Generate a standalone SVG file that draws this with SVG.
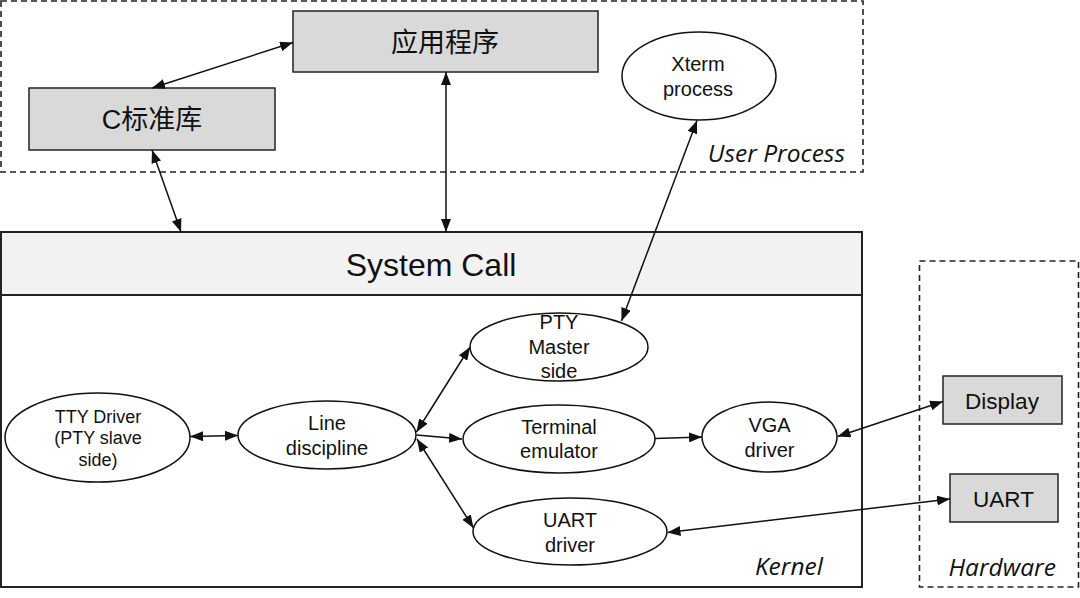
<svg xmlns="http://www.w3.org/2000/svg" width="1080" height="598" viewBox="0 0 1080 598">
<style>
.bg{fill:#ffffff}
.dash{fill:none;stroke:#222;stroke-width:1.6;stroke-dasharray:6,4}
.gbox{fill:#d9d9d9;stroke:#222;stroke-width:1.5}
.ell{fill:#ffffff;stroke:#111;stroke-width:1.5}
.t{font-family:"Liberation Sans",Arial,sans-serif;fill:#111;text-anchor:middle}
.cjk{font-family:"Liberation Sans","Noto Sans CJK SC",sans-serif;fill:#111;text-anchor:middle;font-size:27px}
.it{font-family:"Open Sans","Noto Sans",sans-serif;font-style:italic;fill:#111;font-size:24.5px;text-anchor:end}
.c{fill:none;stroke:#111;stroke-width:1.5}
</style>
<defs>
<marker id="ah" viewBox="0 0 13 10" refX="13" refY="5" markerWidth="13" markerHeight="10" markerUnits="userSpaceOnUse" orient="auto-start-reverse">
<path d="M0,0 L13,5 L0,10 z" fill="#111"/>
</marker>
</defs>
<rect class="bg" x="0" y="0" width="1080" height="598"/>

<g id="user-process">
<rect class="dash" x="1" y="1" width="862" height="171"/>
<text class="it" x="845" y="162">User Process</text>
</g>

<g id="app">
<rect class="gbox" x="293" y="11" width="305" height="61"/>
<text class="cjk" x="445" y="52">应用程序</text>
</g>

<g id="libc">
<rect class="gbox" x="29" y="88" width="246" height="62"/>
<text class="cjk" x="152" y="129">C标准库</text>
</g>

<g id="xterm">
<ellipse class="ell" cx="699" cy="76" rx="77" ry="44"/>
<text class="t" font-size="20" x="698" y="71">Xterm</text>
<text class="t" font-size="20" x="698" y="96">process</text>
</g>

<g id="kernel">
<rect x="1" y="232" width="861" height="355" fill="#ffffff" stroke="#222" stroke-width="2"/>
<rect x="1" y="232" width="861" height="63" fill="#f2f2f2" stroke="#222" stroke-width="2"/>
<text class="t" font-size="32" x="431" y="276">System Call</text>
<text class="it" x="823" y="575">Kernel</text>
</g>

<g id="hardware">
<rect class="dash" x="919.5" y="261" width="159" height="326"/>
<text class="it" x="1056" y="576">Hardware</text>
</g>

<g id="display">
<rect class="gbox" x="943" y="376" width="119" height="48"/>
<text class="t" font-size="22.5" x="1002" y="409">Display</text>
</g>

<g id="uart">
<rect class="gbox" x="950" y="474" width="108" height="48"/>
<text class="t" font-size="22.5" x="1003.5" y="507">UART</text>
</g>

<g id="tty-driver">
<ellipse class="ell" cx="97.5" cy="437.5" rx="92.5" ry="44.5"/>
<text class="t" font-size="18" x="98" y="423">TTY Driver</text>
<text class="t" font-size="18" x="98" y="444">(PTY slave</text>
<text class="t" font-size="18" x="98" y="466">side)</text>
</g>

<g id="line-discipline">
<ellipse class="ell" cx="327" cy="435" rx="89" ry="34"/>
<text class="t" font-size="20" x="327" y="430">Line</text>
<text class="t" font-size="20" x="327" y="455">discipline</text>
</g>

<g id="pty-master">
<ellipse class="ell" cx="559" cy="347" rx="89" ry="34"/>
<text class="t" font-size="20" x="559" y="329">PTY</text>
<text class="t" font-size="20" x="559" y="354">Master</text>
<text class="t" font-size="20" x="559" y="378">side</text>
</g>

<g id="terminal-emulator">
<ellipse class="ell" cx="559" cy="439" rx="96" ry="34"/>
<text class="t" font-size="20" x="559" y="434">Terminal</text>
<text class="t" font-size="20" x="559" y="458">emulator</text>
</g>

<g id="uart-driver">
<ellipse class="ell" cx="570" cy="531.5" rx="97" ry="33.5"/>
<text class="t" font-size="20" x="570" y="527">UART</text>
<text class="t" font-size="20" x="570" y="552">driver</text>
</g>

<g id="vga-driver">
<ellipse class="ell" cx="769.5" cy="437" rx="67.5" ry="35"/>
<text class="t" font-size="20" x="769.5" y="432">VGA</text>
<text class="t" font-size="20" x="769.5" y="457">driver</text>
</g>

<g id="connectors">
<line class="c" x1="293" y1="42.5" x2="152" y2="88" marker-start="url(#ah)" marker-end="url(#ah)"/>
<line class="c" x1="152" y1="150" x2="181" y2="232" marker-start="url(#ah)" marker-end="url(#ah)"/>
<line class="c" x1="446" y1="72" x2="446" y2="232" marker-start="url(#ah)" marker-end="url(#ah)"/>
<line class="c" x1="697" y1="120.5" x2="621.5" y2="321" marker-start="url(#ah)" marker-end="url(#ah)"/>
<line class="c" x1="190" y1="436.5" x2="238" y2="435.5" marker-start="url(#ah)" marker-end="url(#ah)"/>
<line class="c" x1="416.5" y1="432" x2="470" y2="347" marker-start="url(#ah)" marker-end="url(#ah)"/>
<line class="c" x1="416.5" y1="435" x2="462" y2="439" marker-end="url(#ah)"/>
<line class="c" x1="417" y1="439" x2="473.5" y2="528" marker-start="url(#ah)" marker-end="url(#ah)"/>
<line class="c" x1="655" y1="438.5" x2="702" y2="437" marker-end="url(#ah)"/>
<line class="c" x1="837.5" y1="436.5" x2="943" y2="401.5" marker-start="url(#ah)" marker-end="url(#ah)"/>
<line class="c" x1="667.5" y1="532.5" x2="950" y2="499" marker-start="url(#ah)" marker-end="url(#ah)"/>
</g>
</svg>
